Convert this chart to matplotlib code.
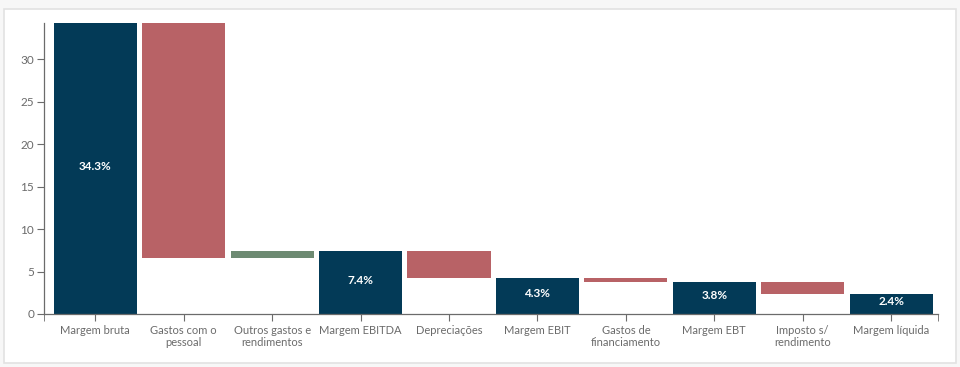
import numpy as np
import matplotlib.pyplot as plt
from matplotlib.patches import Rectangle

NAVY = '#033a57'; RED = '#b86266'; GREEN = '#6d8a72'; GRAY = '#6b6b6b'
plt.rcParams['font.family'] = ['Lato', 'DejaVu Sans']

# ── dados ────────────────────────────────────────────────────────────────────
labels = ['Margem bruta', 'Gastos com o\npessoal', 'Outros gastos e\nrendimentos',
          'Margem EBITDA', 'Depreciações', 'Margem EBIT', 'Gastos de\nfinanciamento',
          'Margem EBT', 'Imposto s/\nrendimento', 'Margem líquida']
values = [34.3, -27.7, 0.8, 7.4, -3.1, 4.3, -0.5, 3.8, -1.4, 2.4]
is_total = [True, False, False, True, False, True, False, True, False, True]

# ── bases da cascata ─────────────────────────────────────────────────────────
bottoms, heights, colors = [], [], []
level = 0.0
for v, tot in zip(values, is_total):
    if tot:
        bottoms.append(0); heights.append(v); colors.append(NAVY)
        level = v
    else:
        lo = min(level, level + v)
        bottoms.append(lo); heights.append(abs(v))
        colors.append(GREEN if v > 0 else RED)
        level += v

fig = plt.figure(figsize=(9.6, 3.67), dpi=100)
fig.patch.set_facecolor('#f7f7f7')
card = Rectangle((4/960, 4/367), 952/960, 354/367, transform=fig.transFigure,
                 facecolor='white', edgecolor='#e2e2e2', lw=1.2, zorder=-5)
fig.add_artist(card)

ax = fig.add_axes([44/960, 1 - 314/367, (938 - 44)/960, (314 - 23)/367])
ax.set_facecolor('none')
ax.set_zorder(2)
x = np.arange(len(values))
ax.bar(x, heights, bottom=bottoms, width=0.94, color=colors)

for i, (v, tot) in enumerate(zip(values, is_total)):
    if tot:
        ax.text(i, v / 2 + 0.25, f'{v:.1f}%', ha='center', va='center',
                color='white', fontsize=8.5, fontweight='bold')

ax.set_xlim(-0.58, 9.53)
ax.set_ylim(0, 34.3)
ax.set_yticks([0, 5, 10, 15, 20, 25, 30])
ax.set_xticks(x)
ax.set_xticklabels(labels, fontsize=8, color=GRAY, linespacing=1.1)
ax.set_xticks([-0.58, 9.53], minor=True)
ax.tick_params(axis='x', which='both', length=5, color=GRAY, pad=3)
ax.tick_params(axis='y', labelsize=8.5, labelcolor=GRAY, color=GRAY, length=5, pad=2)
for s in ['top', 'right']:
    ax.spines[s].set_visible(False)
for s in ['left', 'bottom']:
    ax.spines[s].set_color(GRAY)
    ax.spines[s].set_linewidth(0.9)

plt.savefig('out.png', dpi=100)
